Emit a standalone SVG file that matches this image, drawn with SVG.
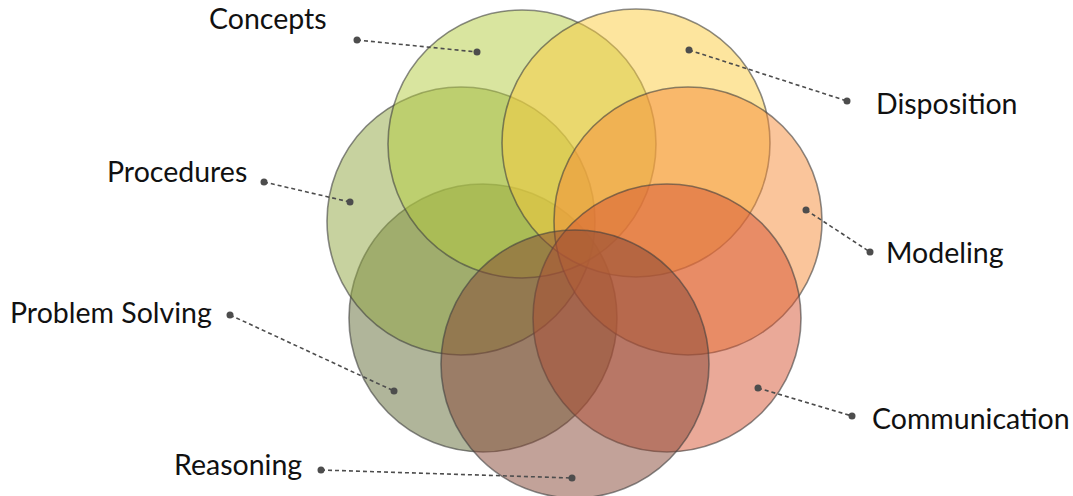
<svg xmlns="http://www.w3.org/2000/svg" width="1073" height="496" viewBox="0 0 1073 496">
<style>
.c{stroke:#3f3f3f;stroke-opacity:0.6;stroke-width:1.6;fill-opacity:0.5}
.l{fill:none;stroke:#4d4d4d;stroke-width:1.6;stroke-dasharray:4 3}
.d{fill:#4d4d4d}
.t{font-family:Lato,"Open Sans",sans-serif;font-size:28.5px;fill:#111}
</style>
<rect width="1073" height="496" fill="#fff"/>
<g id="problem-solving"><circle class="c" cx="483" cy="318" r="134" fill="#616b35"/></g>
<g id="procedures"><circle class="c" cx="461" cy="221" r="134" fill="#8fa540"/></g>
<g id="concepts"><circle class="c" cx="522" cy="144" r="134" fill="#b3cb40"/></g>
<g id="disposition"><circle class="c" cx="636" cy="143" r="134" fill="#fbcb3d"/></g>
<g id="modeling"><circle class="c" cx="688" cy="221" r="134" fill="#f58b37"/></g>
<g id="communication"><circle class="c" cx="667" cy="318" r="134" fill="#d55331"/></g>
<g id="reasoning"><circle class="c" cx="575" cy="364" r="134" fill="#854533"/></g>
<g id="connectors">
<line class="l" x1="357" y1="40" x2="477" y2="52"/><circle class="d" cx="357" cy="40" r="3.5"/><circle class="d" cx="477" cy="52" r="3.5"/>
<line class="l" x1="689" y1="50" x2="847" y2="101"/><circle class="d" cx="689" cy="50" r="3.5"/><circle class="d" cx="847" cy="101" r="3.5"/>
<line class="l" x1="264" y1="182" x2="350" y2="202"/><circle class="d" cx="264" cy="182" r="3.5"/><circle class="d" cx="350" cy="202" r="3.5"/>
<line class="l" x1="806" y1="210" x2="870" y2="252"/><circle class="d" cx="806" cy="210" r="3.5"/><circle class="d" cx="870" cy="252" r="3.5"/>
<line class="l" x1="230" y1="315" x2="394" y2="391"/><circle class="d" cx="230" cy="315" r="3.5"/><circle class="d" cx="394" cy="391" r="3.5"/>
<line class="l" x1="758" y1="388" x2="852" y2="416"/><circle class="d" cx="758" cy="388" r="3.5"/><circle class="d" cx="852" cy="416" r="3.5"/>
<line class="l" x1="321" y1="470" x2="572" y2="478"/><circle class="d" cx="321" cy="470" r="3.5"/><circle class="d" cx="572" cy="478" r="3.5"/>
</g>
<g id="labels">
<text class="t" x="209" y="29">Concepts</text>
<text class="t" x="876" y="114">Disposition</text>
<text class="t" x="107" y="182">Procedures</text>
<text class="t" x="886" y="263">Modeling</text>
<text class="t" x="10" y="323">Problem Solving</text>
<text class="t" x="872" y="429">Communication</text>
<text class="t" x="174" y="475">Reasoning</text>
</g>
</svg>
